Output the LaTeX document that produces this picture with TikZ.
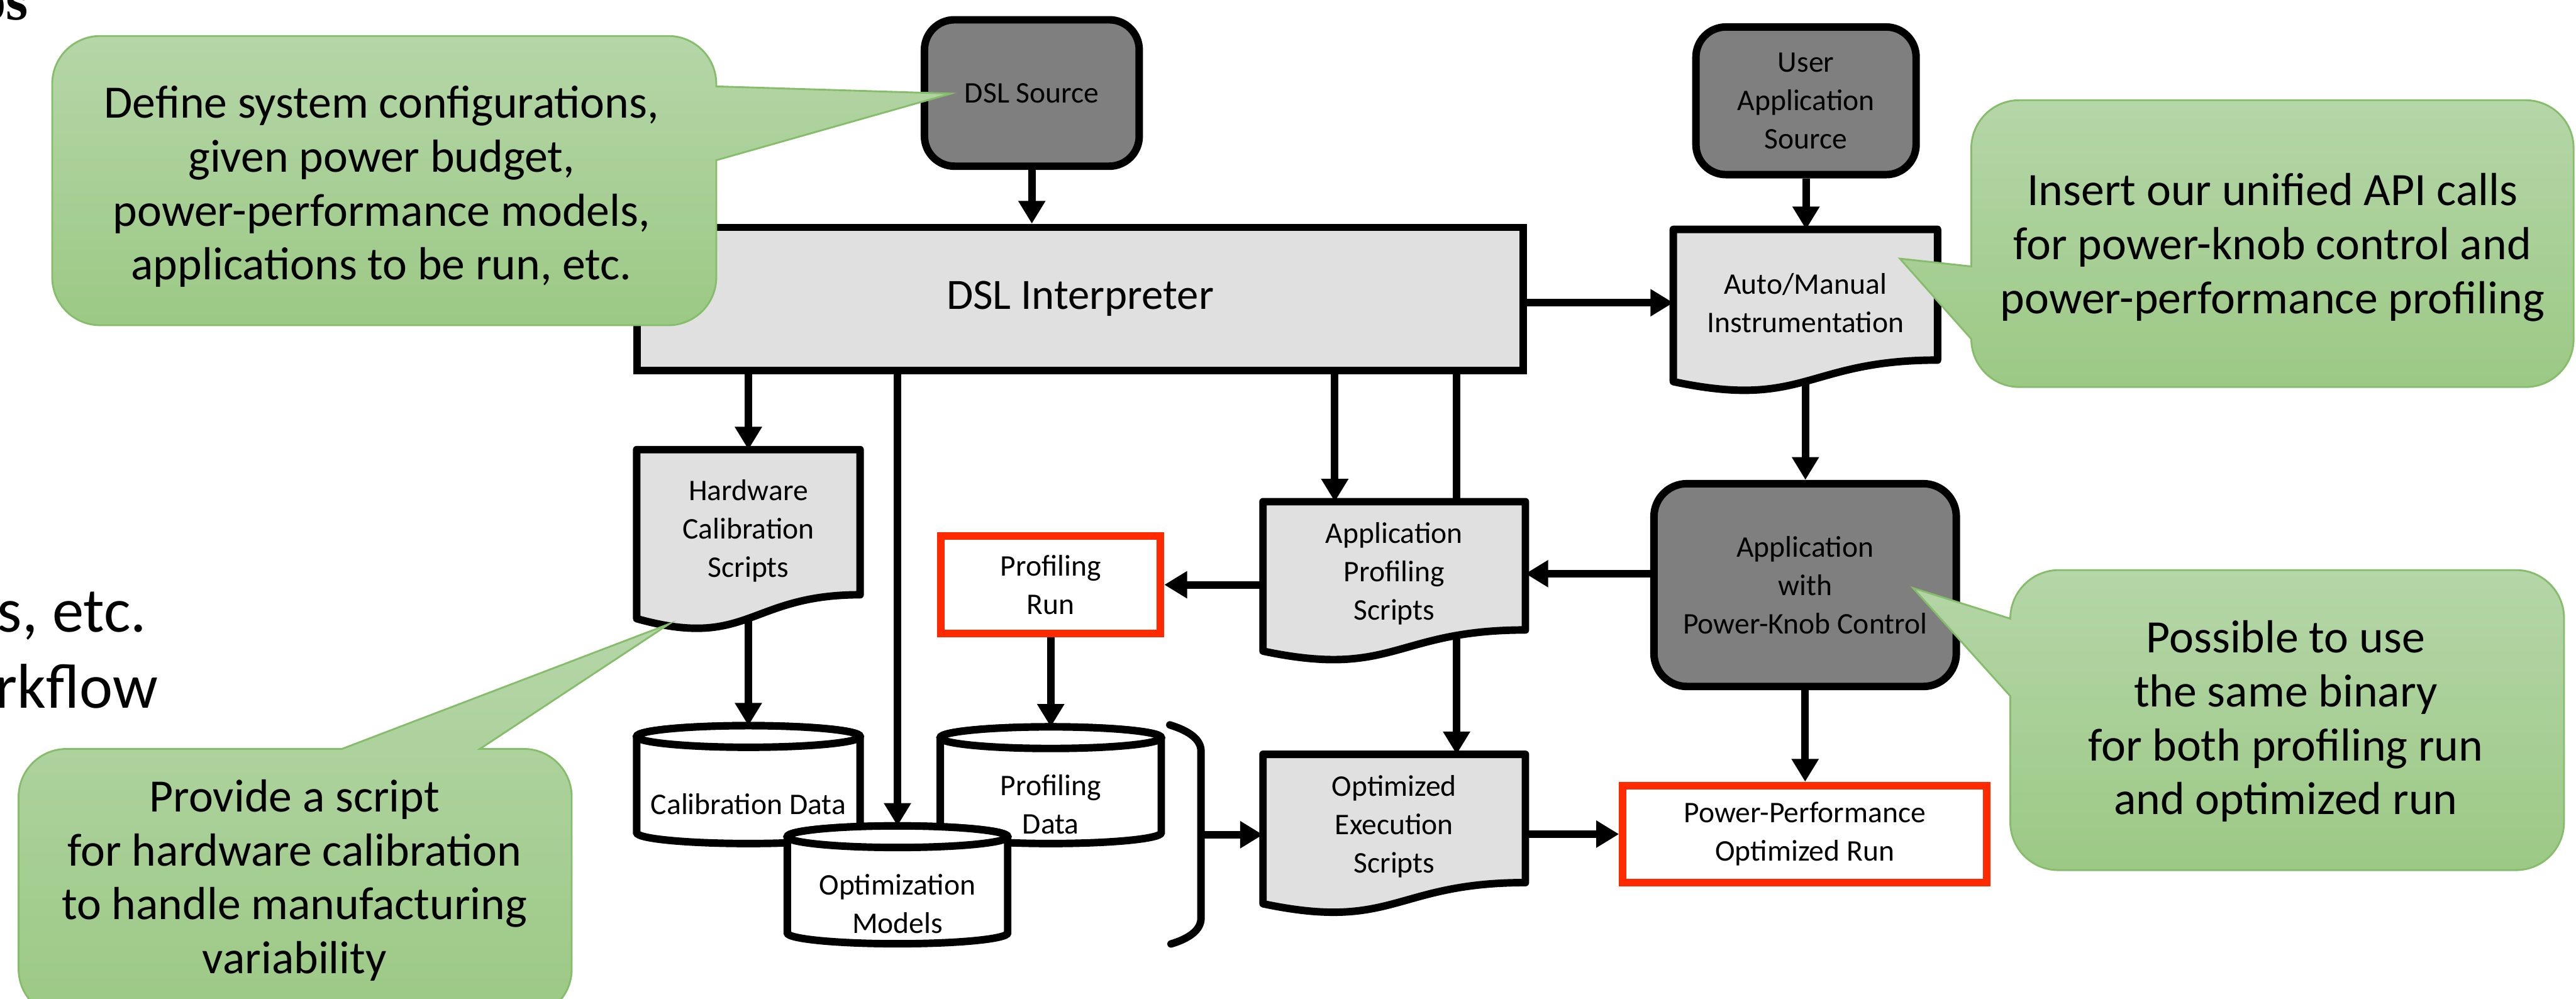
\documentclass[tikz,border=0pt]{standalone}
\usepackage{fontspec}
\setmainfont{Carlito}
\newfontfamily\slidefont{Liberation Serif}
\usepackage{xcolor}
\usetikzlibrary{shapes.geometric, arrows.meta, positioning, calc, backgrounds}
\definecolor{darkbox}{HTML}{7F7F7F}
\definecolor{lightbox}{HTML}{E0E0E0}
\definecolor{runred}{HTML}{FF2A00}
\definecolor{noteTop}{HTML}{B5D6A8}
\definecolor{noteBot}{HTML}{9CC985}
\definecolor{noteEdge}{HTML}{86BD6B}
\newcommand{\boxfont}{\fontsize{14.2}{18.2}\selectfont}
\newcommand{\notefont}{\fontsize{22}{25.6}\selectfont}
\newcommand{\cylry}{0.18cm}
% wavy bottom of a script (document) node
\newcommand{\docoutline}[1]{%
  \path [docshape] let \p1=(#1.north west), \p2=(#1.south east), \n1={\y1-\y2} in
    (\x1,\y1) -- (\x2,\y1) -- (\x2,{\y2+0.109*\n1})
    .. controls ({(\x1+\x2)/2},{\y2+0.109*\n1}) and ({(\x1+\x2)/2},{\y2-0.230*\n1}) .. (\x1,{\y2-0.038*\n1}) -- cycle;}
% drum of a data node
\newcommand{\cyloutline}[1]{%
  \path [cylshape] let \p1=(#1.north west), \p2=(#1.south east) in
    (\x1,{\y1-\cylry}) -- (\x1,{\y2+\cylry})
    arc [start angle=180, end angle=360, x radius={(\x2-\x1)/2}, y radius=\cylry]
    -- (\x2,{\y1-\cylry})
    arc [start angle=0, end angle=180, x radius={(\x2-\x1)/2}, y radius=\cylry] -- cycle;
  \path [cylshape] let \p1=(#1.north west), \p2=(#1.south east) in
    ({(\x1+\x2)/2},{\y1-\cylry}) ellipse [x radius={(\x2-\x1)/2}, y radius=\cylry];}
\tikzset{
  srcbox/.style={rectangle, rounded corners=0.5cm, draw=black, line width=0.125cm, fill=darkbox, text centered, align=center, font=\boxfont, inner sep=0pt},
  interpbox/.style={rectangle, draw=black, line width=0.125cm, fill=lightbox, font=\fontsize{20.5}{24}\selectfont, inner sep=0pt},
  scriptbox/.style={rectangle, inner sep=0pt, align=center, font=\boxfont},
  dbbox/.style={rectangle, inner sep=0pt},
  dblabel/.style={align=center, font=\boxfont, yshift=-0.32cm},
  runbox/.style={rectangle, draw=runred, line width=0.125cm, fill=white, align=center, font=\boxfont, inner sep=0pt},
  docshape/.style={draw=black, fill=lightbox, line width=0.125cm, line join=round},
  cylshape/.style={draw=black, fill=white, line width=0.125cm},
  arrow/.style={line width=0.125cm, -{Triangle[length=0.38cm,width=0.43cm]}},
  connector/.style={line width=0.125cm},
  notebox/.style={draw=noteEdge, line width=0.03cm, top color=noteTop, bottom color=noteBot},
  notetext/.style={align=center, font=\notefont},
  slidetext/.style={font=\fontsize{30}{36}\selectfont, anchor=base east, inner sep=0pt}
}

\begin{document}
\begin{tikzpicture}
        \useasboundingbox (0,0) rectangle (42.94,-16.64);

        % Slide text behind the figure
        \node (headfrag) [anchor=base east, inner sep=0pt, font={\slidefont\bfseries\fontsize{27}{30}\selectfont}] at (0.48,-0.33) {os};
        \node (etcfrag) [slidetext] at (2.45,-10.53) {s, etc.};
        \node (flowfrag) [slidetext] at (2.64,-11.80) {rkflow};

        % Nodes
        \node (dslsrc) [srcbox, minimum width=3.58cm, minimum height=2.44cm] at (17.20,-1.55) {DSL Source};
        \node (usrsrc) [srcbox, minimum width=3.67cm, minimum height=2.46cm] at (30.105,-1.68) {User\\Application\\Source};
        \node (interp) [interpbox, minimum width=14.77cm, minimum height=2.38cm] at (18.005,-4.98) {DSL Interpreter};
        \node (instr) [scriptbox, minimum width=4.39cm, minimum height=2.43cm] at (30.095,-5.045) {Auto/Manual\\Instrumentation};
        \node (hwcal) [scriptbox, minimum width=3.71cm, minimum height=2.70cm] at (12.475,-8.85) {Hardware\\Calibration\\Scripts};
        \node (appprof) [scriptbox, minimum width=4.36cm, minimum height=2.385cm] at (23.24,-9.56) {Application\\Profiling\\Scripts};
        \node (optexec) [scriptbox, minimum width=4.36cm, minimum height=2.385cm] at (23.24,-13.77) {Optimized\\Execution\\Scripts};
        \node (knobapp) [srcbox, rounded corners=0.55cm, minimum width=5.04cm, minimum height=3.38cm] at (30.09,-9.75) {Application\\with\\Power-Knob Control};
        \node (profrun) [runbox, minimum width=3.66cm, minimum height=1.62cm] at (17.515,-9.745) {Profiling\\Run};
        \node (optrun) [runbox, minimum width=6.07cm, minimum height=1.62cm] at (30.085,-13.90) {Power-Performance\\Optimized Run};
        \node (caldata) [dbbox, minimum width=3.71cm, minimum height=1.95cm, label={[dblabel]center:Calibration Data}] at (12.475,-13.075) {};
        \node (profdata) [dbbox, minimum width=3.67cm, minimum height=1.93cm, label={[dblabel]center:{Profiling\\Data}}] at (17.515,-13.085) {};
        \node (optmodel) [dbbox, minimum width=3.66cm, minimum height=1.95cm, label={[dblabel]center:{Optimization\\Models}}] at (14.96,-14.745) {};

        % Bracket round the data
        \draw [connector, line cap=round] (19.50,-12.08) .. controls (19.82,-12.18) and (20.02,-12.32) .. (20.02,-12.52) -- (20.02,-15.30) .. controls (20.02,-15.50) and (19.82,-15.64) .. (19.52,-15.73);
        \coordinate (brk) at (20.02,-13.91);

        \begin{pgfonlayer}{background}
        % Paths
        \draw [arrow] (dslsrc.south) -- (dslsrc.south |- interp.north);
        \draw [arrow] (usrsrc.south) -- (usrsrc.south |- instr.north);
        \draw [arrow] (interp.east |- instr.west) -- (instr.west);
        \draw [arrow] (interp.south -| hwcal.north) -- (hwcal.north);
        \draw [arrow] (hwcal.south) -- (caldata.north);
        \draw [arrow] (interp.south -| optmodel.north) -- (optmodel.north);
        \draw [arrow] ([xshift=-0.99cm]appprof.north |- interp.south) -- ([xshift=-0.99cm]appprof.north);
        \draw [arrow] ([xshift=1.04cm]optexec.north |- interp.south) -- ([xshift=1.04cm]optexec.north);
        \draw [arrow] (appprof.west |- profrun.east) -- (profrun.east);
        \draw [arrow] (profrun.south) -- (profdata.north);
        \draw [arrow] (knobapp.west |- appprof.east) -- (appprof.east);
        \draw [arrow] (instr.south) -- (instr.south |- knobapp.north);
        \draw [arrow] (knobapp.south) -- (knobapp.south |- optrun.north);
        \draw [arrow] (brk) -- (brk -| optexec.west);
        \draw [arrow] (optexec.east |- optrun.west) -- (optrun.west);

        % Shapes under the texts
        \docoutline{instr}
        \docoutline{hwcal}
        \docoutline{appprof}
        \docoutline{optexec}
        \cyloutline{caldata}
        \cyloutline{profdata}
        \cyloutline{optmodel}
        \end{pgfonlayer}

        % Notes
        \draw [notebox] (1.67,-0.60) -- (11.14,-0.60) arc [start angle=90, end angle=0, radius=0.8] -- (11.94,-1.44) -- (15.85,-1.56) -- (11.94,-2.67) -- (11.94,-4.62) arc [start angle=0, end angle=-90, radius=0.8] -- (1.67,-5.42) arc [start angle=-90, end angle=-180, radius=0.8] -- (0.87,-1.40) arc [start angle=180, end angle=90, radius=0.8] -- cycle;
        \node (note1) [notetext] at (6.36,-3.11) {Define system configurations,\\given power budget,\\power-performance models,\\applications to be run, etc.};

        \draw [notebox] (33.66,-1.67) -- (42.10,-1.67) arc [start angle=90, end angle=0, radius=0.8] -- (42.90,-5.65) arc [start angle=0, end angle=-90, radius=0.8] -- (33.66,-6.45) arc [start angle=-90, end angle=-180, radius=0.8] -- (32.86,-5.65) -- (31.67,-4.31) -- (32.86,-4.44) -- (32.86,-2.47) arc [start angle=180, end angle=90, radius=0.8] -- cycle;
        \node (note2) [notetext] at (37.88,-4.12) {Insert our unified API calls\\for power-knob control and\\power-performance profiling};

        \draw [notebox] (1.11,-12.48) -- (5.70,-12.48) -- (11.15,-10.40) -- (8.00,-12.48) -- (8.73,-12.48) arc [start angle=90, end angle=0, radius=0.8] -- (9.53,-16.15) arc [start angle=0, end angle=-90, radius=0.8] -- (1.11,-16.95) arc [start angle=-90, end angle=-180, radius=0.8] -- (0.31,-13.28) arc [start angle=180, end angle=90, radius=0.8] -- cycle;
        \node (note3) [notetext] at (4.91,-14.67) {Provide a script\\for hardware calibration\\to handle manufacturing\\variability};

        \draw [notebox] (34.31,-9.50) -- (41.94,-9.50) arc [start angle=90, end angle=0, radius=0.8] -- (42.74,-13.70) arc [start angle=0, end angle=-90, radius=0.8] -- (34.31,-14.50) arc [start angle=-90, end angle=-180, radius=0.8] -- (33.51,-11.60) -- (31.89,-9.80) -- (33.51,-10.31) arc [start angle=180, end angle=90, radius=0.81] -- cycle;
        \node (note4) [notetext] at (38.10,-12.02) {Possible to use\\the same binary\\for both profiling run\\and optimized run};
\end{tikzpicture}
\end{document}
